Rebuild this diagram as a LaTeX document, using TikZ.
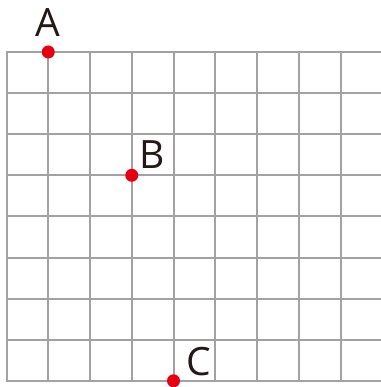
\documentclass[tikz,border=0pt]{standalone}
\usepackage{fontspec}
\setmainfont{Open Sans}
\definecolor{gridgray}{RGB}{162,162,162}
\definecolor{dotred}{RGB}{230,0,18}
\definecolor{txtblack}{RGB}{35,24,21}
\begin{document}
\begin{tikzpicture}[x=1pt,y=-1pt,
  gridline/.style={draw=gridgray,line width=2pt,line cap=rect},
  dot/.style={circle,fill=dotred,inner sep=0pt,minimum size=13pt},
  lbl/.style={font=\fontsize{39}{39}\selectfont,inner sep=0pt,anchor=base,text=txtblack}]
\useasboundingbox (0,0) rectangle (380,387);
\foreach \i in {0,...,8}
  \draw[gridline] ({6.5+41.75*\i},52) -- ({6.5+41.75*\i},380.8);
\foreach \j in {0,...,8}
  \draw[gridline] (6.5,{52+41.1*\j}) -- (382,{52+41.1*\j});
\node[dot] (A) at (48.25,52) {};
\node[dot] (B) at (131.75,175.3) {};
\node[dot] (C) at (173.5,380.8) {};
\node[lbl] (lA) at (47.5,37) {A};
\node[lbl] (lB) at (152,168) {B};
\node[lbl] (lC) at (198.5,375) {C};
\end{tikzpicture}
\end{document}
